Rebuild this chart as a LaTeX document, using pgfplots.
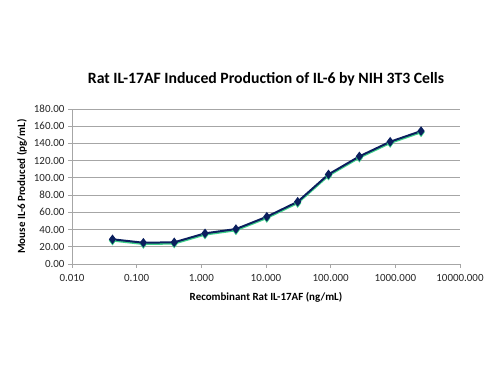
\documentclass[border=0pt]{standalone}
\usepackage{pgfplots}
\pgfplotsset{compat=1.18}
\usepackage{fontspec}
\setmainfont{Carlito}
\definecolor{navy}{HTML}{0B1F5E}
\definecolor{shadowgreen}{HTML}{3FD08A}
\definecolor{gridgray}{HTML}{A6A6A6}
\begin{document}
\begin{tikzpicture}
\begin{axis}[
  at={(0,0)}, anchor=south west,
  scale only axis, width=388bp, height=155bp,
  xmode=log, log basis x=10,
  xmin=0.01, xmax=10000, ymin=0, ymax=180,
  xtick={0.01,0.1,1,10,100,1000,10000},
  xticklabels={0.010,0.100,1.000,10.000,100.000,1000.000,10000.000},
  minor xtick={},
  ytick={0,20,...,180},
  yticklabel={\pgfmathprintnumber[fixed,fixed zerofill,precision=2,assume math mode=true]{\tick}},
  ticklabel style={font=\fontsize{11}{13}\selectfont, text=black!85},
  xticklabel style={yshift=-3bp},
  axis x line*=bottom, axis y line*=left,
  axis line style={gridgray, line width=0.8pt, -},
  tick style={gridgray, line width=0.8pt},
  tick align=outside, major tick length=4bp,
  ymajorgrids, grid style={gridgray, line width=0.8pt},
  xlabel={\bfseries Recombinant Rat IL-17AF (ng/mL)},
  ylabel={\bfseries Mouse IL-6 Produced (pg/mL)},
  label style={font=\fontsize{11}{13}\selectfont\bfseries},
  xlabel style={at={(axis description cs:0.5,0)}, anchor=center, yshift=-33bp},
  ylabel style={at={(axis description cs:0,0.5)}, anchor=center, rotate=0, yshift=50bp},
  title={\bfseries Rat IL-17AF Induced Production of IL-6 by NIH 3T3 Cells},
  title style={font=\fontsize{15.8}{18}\selectfont\bfseries, at={(axis description cs:0.5,1)}, anchor=center, yshift=24bp},
  clip=false,
]
\addplot[shadowgreen, line width=2pt, mark=diamond*, mark size=3.2pt, mark options={fill=shadowgreen, draw=shadowgreen}]
  coordinates {(0.0423,27.2)(0.127,23.2)(0.381,23.7)(1.14,34.1)(3.43,39.1)(10.3,53.4)(30.9,70.8)(92.6,102.6)(278,123.5)(833,140.5)(2500,152.9)};
\addplot[navy, line width=2pt, mark=diamond*, mark size=3.2pt, mark options={fill=navy, draw=navy}]
  coordinates {(0.0423,28.7)(0.127,24.7)(0.381,25.2)(1.14,35.6)(3.43,40.6)(10.3,54.9)(30.9,72.3)(92.6,104.1)(278,125.0)(833,142.0)(2500,154.4)};
\end{axis}
\pgfresetboundingbox
\path[use as bounding box] (-72bp,-111bp) rectangle (428bp,264bp);
\end{tikzpicture}
\end{document}
